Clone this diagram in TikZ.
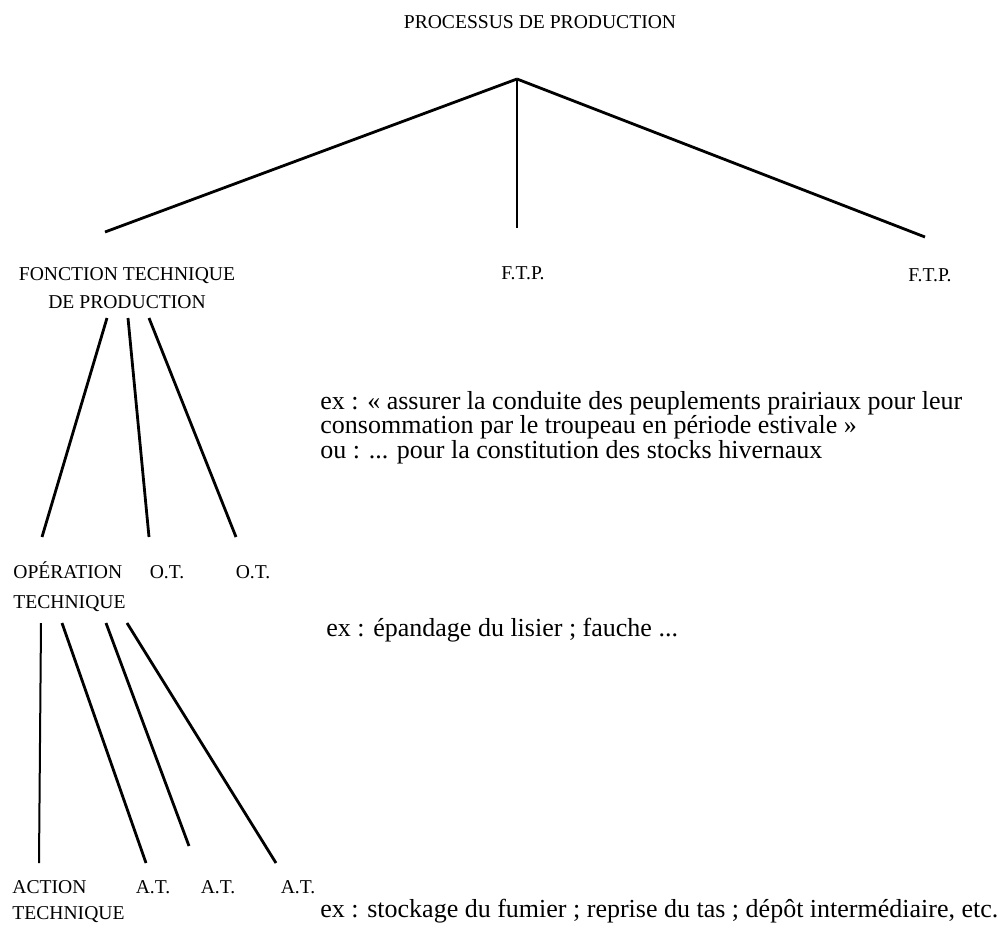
\documentclass[tikz,border=0pt]{standalone}
\usepackage{fontspec}
\setmainfont{Liberation Serif}

\begin{document}
\begin{tikzpicture}[
  x = 0.5pt, y = -0.5pt,
  every node/.style = {inner sep=0pt, anchor=base, font=\fontsize{9.8}{14}\selectfont},
  branch/.style     = {draw, line width=1.4pt},
  thinbranch/.style = {draw, line width=1pt},
  example/.style    = {anchor=base west, align=left, font=\fontsize{13}{12.2}\selectfont},
]
\useasboundingbox (0,0) rectangle (1002,928);

% level 0
\node (pp) at (540, 28) {PROCESSUS DE PRODUCTION};
\coordinate (top) at (517, 79);
% level 1
\node[align=center] (ftp) at (127, 308) {FONCTION TECHNIQUE\\DE PRODUCTION};
\node (ftp2) at (523, 279) {F.T.P.};
\node (ftp3) at (930, 281) {F.T.P.};
\coordinate (f1) at (105, 232);
\coordinate (f2) at (517, 228);
\coordinate (f3) at (925, 237);
\coordinate (g1) at (107, 318);
\coordinate (g2) at (128, 318);
\coordinate (g3) at (149, 318);
% level 2
\node[anchor=base west, align=left, font=\fontsize{9.8}{15}\selectfont] (ot) at (13, 608) {OPÉRATION\\TECHNIQUE};
\node (ot2) at (167, 578) {O.T.};
\node (ot3) at (253, 578) {O.T.};
\coordinate (o1) at (42, 537);
\coordinate (o2) at (149, 537);
\coordinate (o3) at (236, 537);
\coordinate (p1) at (41, 623);
\coordinate (p2) at (62, 623);
\coordinate (p3) at (106, 623);
\coordinate (p4) at (127, 623);
% level 3
\node[anchor=base west, align=left, font=\fontsize{9.8}{13}\selectfont] (at) at (12, 919) {ACTION\\TECHNIQUE};
\node (at2) at (153, 893) {A.T.};
\node (at3) at (218, 893) {A.T.};
\node (at4) at (298, 893) {A.T.};
\coordinate (a1) at (39, 863);
\coordinate (a2) at (146, 863);
\coordinate (a3) at (189, 846);
\coordinate (a4) at (276, 863);

% examples
\node[example] (ex1) at (320, 458) {ex : « assurer la conduite des peuplements prairiaux pour leur\\
  consommation par le troupeau en période estivale »\\
  ou : ... pour la constitution des stocks hivernaux};
\node[example] (ex2) at (326, 636) {ex : épandage du lisier ; fauche ...};
\node[example] (ex3) at (320, 917) {ex : stockage du fumier ; reprise du tas ; dépôt intermédiaire, etc.};

\foreach \p/\c in {top/f1, top/f2, top/f3,
                   g1/o1, g2/o2, g3/o3,
                   p2/a2, p3/a3, p4/a4}
  \draw[branch] (\p) -- (\c);
\draw[thinbranch] (p1) -- (a1);

\end{tikzpicture}
\end{document}
